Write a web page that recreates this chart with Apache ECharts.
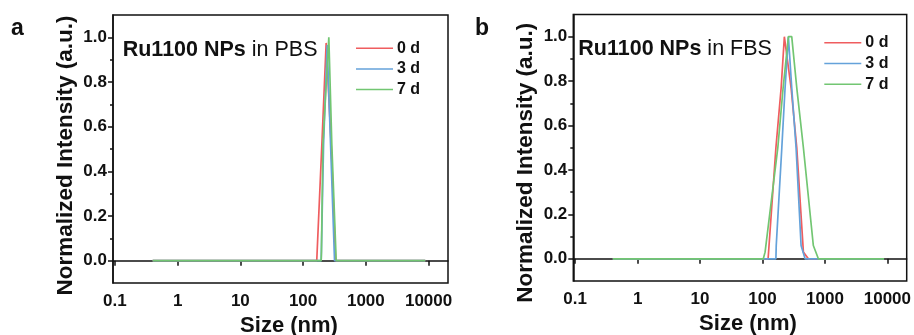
<!DOCTYPE html>
<html>
<head>
<meta charset="utf-8">
<script src="https://cdn.jsdelivr.net/npm/echarts@6/dist/echarts.min.js"></script>
<style>
  html, body { margin: 0; padding: 0; background: #fff; }
  #chart { width: 914px; height: 335px; }
</style>
</head>
<body>
<div id="chart"></div>
<script>
// ---- tick labels ----
const sizeTicks = [0.1, 1, 10, 100, 1000, 10000];
const intensityTicks = [0, 0.2, 0.4, 0.6, 0.8, 1.0];
const intensityMinorTicks = [0.1, 0.3, 0.5, 0.7, 0.9];

const seriesNames = ['0 d', '3 d', '7 d'];
const panelLabels = ['a', 'b'];
const panelMedia = ['PBS', 'FBS'];

// ---- panel a: Ru1100 NPs in PBS ----
const pbs0dSize = [0.4, 165, 199, 233, 280, 330, 8850];
const pbs0dInt  = [0,   0,   0.52, 0.975, 0.52, 0, 0];
const pbs3dSize = [0.4, 194, 196, 212, 242, 274, 317, 8850];
const pbs3dInt  = [0,   0,   0.05, 0.52, 0.965, 0.52, 0, 0];
const pbs7dSize = [0.4, 194, 196, 207, 257, 287, 337, 8850];
const pbs7dInt  = [0,   0,   0.04, 0.52, 1.0, 0.52, 0, 0];

// ---- panel b: Ru1100 NPs in FBS ----
const fbs0dSize = [0.4, 123, 164, 199, 224, 287, 354, 452, 543, 8850];
const fbs0dInt  = [0,   0,   0.5, 0.77, 1.0, 0.77, 0.5, 0.03, 0, 0];
const fbs3dSize = [0.4, 164, 166, 204, 230, 260, 294, 345, 415, 481, 8850];
const fbs3dInt  = [0,   0,   0.06, 0.5, 0.77, 1.0, 0.77, 0.5, 0.06, 0, 0];
const fbs7dSize = [0.4, 103, 110, 176, 214, 260, 294, 354, 452, 652, 785, 8850];
const fbs7dInt  = [0,   0,   0.03, 0.5, 0.77, 1.0, 1.0, 0.77, 0.5, 0.06, 0, 0];

const colors = ['#ef5d5f', '#64a2da', '#72c672'];

function pairs(xs, ys) { return xs.map((x, i) => [x, ys[i]]); }

const panelData = [
  [pairs(pbs0dSize, pbs0dInt), pairs(pbs3dSize, pbs3dInt), pairs(pbs7dSize, pbs7dInt)],
  [pairs(fbs0dSize, fbs0dInt), pairs(fbs3dSize, fbs3dInt), pairs(fbs7dSize, fbs7dInt)]
];

const FONT = '"Liberation Sans", Arial, sans-serif';
const grids = [
  { left: 113, right: 466, top: 15, bottom: 52 },
  { left: 573.3, right: 7.3, top: 14.5, bottom: 54 }
];
const yNamePad = [13, 30];
const xNamePad = [17, 16];

const option = {
  backgroundColor: '#fff',
  animation: false,
  textStyle: { fontFamily: FONT },
  grid: grids.map(g => Object.assign({ show: true, borderColor: '#111', borderWidth: 1.5, backgroundColor: 'transparent',
                                       containLabel: false, outerBoundsMode: 'none' }, g)),
  title: [],
  legend: [],
  xAxis: [],
  yAxis: [],
  series: []
};

[0, 1].forEach(p => {
  option.xAxis.push({
    type: 'log', logBase: 10, gridIndex: p,
    min: 0.0933, max: 20400,
    name: 'Size (nm)', nameLocation: 'middle', nameGap: 26,
    nameTextStyle: { fontSize: 22, fontWeight: 'bold', color: '#111', fontFamily: FONT, padding: [0, 0, 0, xNamePad[p]] },
    axisLine: { show: true, lineStyle: { color: '#111', width: 1.5 } },
    axisTick: { show: true, customValues: sizeTicks, length: 5, lineStyle: { color: '#111', width: 1.5 } },
    axisLabel: { show: true, customValues: sizeTicks, margin: 10, fontSize: 17, fontWeight: 'bold', color: '#111', fontFamily: FONT,
                 formatter: v => String(+(+v).toPrecision(6)) },
    splitLine: { show: false }, minorTick: { show: false }
  });
  option.yAxis.push({
    type: 'value', gridIndex: p, position: 'left',
    min: -0.1, max: 1.1, interval: 0.1,
    name: 'Normalized Intensity (a.u.)', nameLocation: 'middle', nameGap: 36,
    nameTextStyle: { fontSize: 22.5, fontWeight: 'bold', color: '#111', fontFamily: FONT, padding: [0, yNamePad[p], 0, 0] },
    axisLine: { show: true, lineStyle: { color: '#111', width: 1.5 } },
    axisTick: { show: true, customValues: intensityTicks, length: 5, lineStyle: { color: '#111', width: 1.5 } },
    axisLabel: { show: true, customValues: intensityTicks, margin: 6, fontSize: 17, fontWeight: 'bold', color: '#111', fontFamily: FONT,
                 formatter: v => (+v).toFixed(1) },
    splitLine: { show: false }
  });
  option.yAxis.push({
    type: 'value', gridIndex: p, position: 'left',
    min: -0.1, max: 1.1, interval: 0.1,
    axisLine: { show: false },
    axisTick: { show: true, customValues: intensityMinorTicks, length: 3, lineStyle: { color: '#111', width: 1.5 } },
    axisLabel: { show: false },
    splitLine: { show: false }
  });
  option.title.push({
    text: panelLabels[p], left: p === 0 ? 11 : 475, top: 17, padding: 0,
    textStyle: { fontSize: 23, fontWeight: 'bold', color: '#111', fontFamily: FONT }
  });
  option.title.push({
    text: '{b|Ru1100 NPs} in ' + panelMedia[p],
    left: p === 0 ? 122.7 : 578.3, top: p === 0 ? 39.5 : 38, padding: 0,
    textStyle: { fontSize: 21.5, fontWeight: 'normal', color: '#111', fontFamily: FONT,
      rich: { b: { fontSize: 21.5, fontWeight: 'bold', color: '#111', fontFamily: FONT } } }
  });
  option.legend.push({
    orient: 'vertical', left: p === 0 ? 356 : 824.3, top: p === 0 ? 40.2 : 34.8,
    padding: 0, itemGap: 4.7, itemWidth: 37, itemHeight: 14,
    icon: 'rect',
    data: seriesNames.map((n, i) => ({ name: n, itemStyle: { color: colors[i] }, icon: 'path://M0,6.5L37,6.5L37,8L0,8Z' })),
    textStyle: { fontSize: 16, fontWeight: 'bold', color: '#111', fontFamily: FONT, padding: [0, 0, 0, -1] },
    selectedMode: false
  });
  seriesNames.forEach((n, i) => {
    option.series.push({
      type: 'line', name: n, xAxisIndex: p, yAxisIndex: p * 2,
      data: panelData[p][i], showSymbol: false, symbol: 'none',
      lineStyle: { color: colors[i], width: 1.7 }, itemStyle: { color: colors[i] },
      clip: true
    });
  });
});

const chart = echarts.init(document.getElementById('chart'), null, { renderer: 'canvas' });
chart.setOption(option);
</script>
</body>
</html>
